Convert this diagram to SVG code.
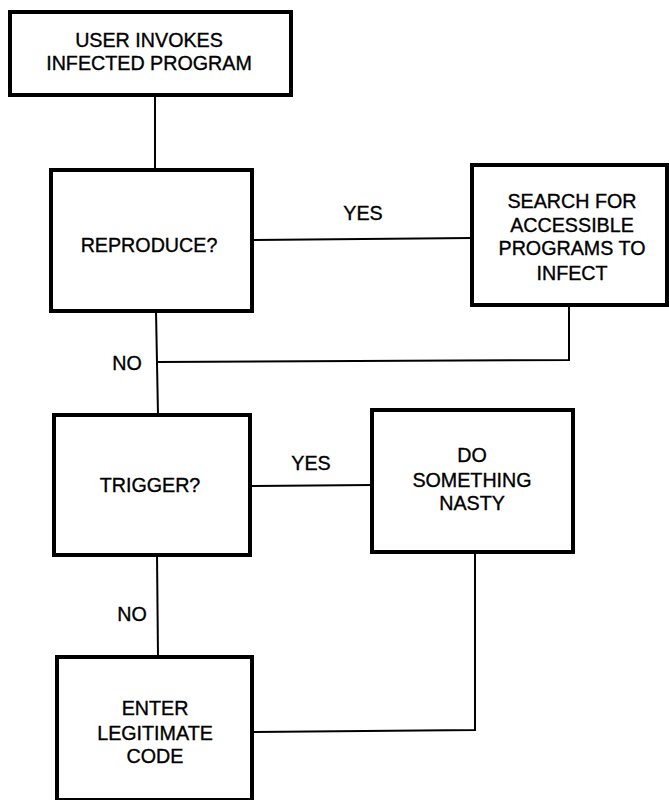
<svg xmlns="http://www.w3.org/2000/svg" width="669" height="800" viewBox="0 0 669 800">
<style>
.box{fill:#fff;stroke:#000;stroke-width:4}
.con{fill:none;stroke:#000;stroke-width:2}
text{font-family:"Liberation Sans",Arial,sans-serif;font-size:19.7px;fill:#000;stroke:#000;stroke-width:0.35;text-anchor:middle}
</style>
<rect width="669" height="800" fill="#fff"/>
<g id="connectors">
<path class="con" d="M155,95 L155,170"/>
<path class="con" d="M252,240 L472,238"/>
<path class="con" d="M569,305 L569,360 L158,362"/>
<path class="con" d="M156,311 L158,415"/>
<path class="con" d="M250,486 L372,485"/>
<path class="con" d="M157,555 L158,657"/>
<path class="con" d="M253,732 L475,730 L475,552"/>
<text x="363" y="220">YES</text>
<text x="127" y="370">NO</text>
<text x="311" y="470">YES</text>
<text x="132" y="621">NO</text>
</g>
<g id="start">
<rect class="box" x="10" y="12" width="281" height="83"/>
<text x="149" y="47">USER INVOKES</text>
<text x="149" y="70">INFECTED PROGRAM</text>
</g>
<g id="reproduce">
<rect class="box" x="51" y="170" width="201" height="141"/>
<text x="149" y="252">REPRODUCE?</text>
</g>
<g id="search">
<rect class="box" x="472" y="165" width="195" height="140"/>
<text x="572" y="208">SEARCH FOR</text>
<text x="572" y="232">ACCESSIBLE</text>
<text x="572" y="255">PROGRAMS TO</text>
<text x="572" y="280">INFECT</text>
</g>
<g id="trigger">
<rect class="box" x="54" y="415" width="196" height="140"/>
<text x="150" y="492">TRIGGER?</text>
</g>
<g id="nasty">
<rect class="box" x="372" y="410" width="201" height="142"/>
<text x="472" y="462">DO</text>
<text x="472" y="487">SOMETHING</text>
<text x="472" y="510">NASTY</text>
</g>
<g id="legit">
<rect class="box" x="57" y="657" width="195" height="143"/>
<text x="155" y="715">ENTER</text>
<text x="155" y="740">LEGITIMATE</text>
<text x="155" y="763">CODE</text>
</g>
</svg>
